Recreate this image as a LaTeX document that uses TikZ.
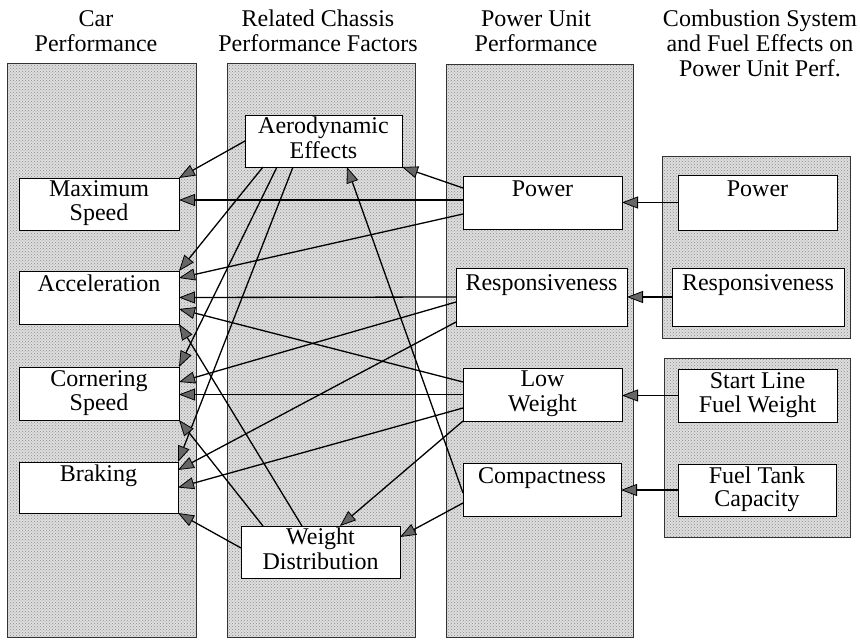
\documentclass[tikz,border=0pt]{standalone}
\usepackage{fontspec}
\setmainfont{Liberation Serif}
\usetikzlibrary{arrows.meta,patterns,calc}
\begin{document}
\begin{tikzpicture}[x=1pt,y=-1pt,
  panelfill/.style={fill=black!13},
  paneldots/.style={pattern=crosshatch dots,pattern color=black!45},
  paneledge/.style={draw=black!80,line width=0.8pt},
  box/.style={draw=black,line width=0.9pt,fill=white,inner sep=0pt,outer sep=0pt,
    align=center,font=\fontsize{24}{22}\selectfont},
  ttl/.style={inner sep=0pt,align=center,anchor=north,font=\fontsize{24}{25}\selectfont},
  conn/.style={line width=1.3pt,-{Triangle[length=16pt,width=12pt,fill=black!60,line width=0.8pt]}},
]
\useasboundingbox (0,0) rectangle (860,640);
\fill[white] (0,0) rectangle (860,640);

% panels
\foreach \a/\b/\c/\d in {7/63/196/637, 227/63/415/637, 446/64/633/637, 662/156/850/338, 664/358/850/537}{
  \fill[panelfill] (\a,\b) rectangle (\c,\d);
  \fill[paneldots] (\a,\b) rectangle (\c,\d);
  \draw[paneledge] (\a,\b) rectangle (\c,\d);
}

% titles
\node[ttl] (t1) at (96,8.5) {\strut Car\\Performance};
\node[ttl] (t2) at (318,8.5) {\strut Related Chassis\\Performance Factors};
\node[ttl] (t3) at (536,8.5) {\strut Power Unit\\Performance};
\node[ttl] (t4) at (760,8.5) {\strut Combustion System\\and Fuel Effects on\\Power Unit Perf.};

% car performance
\node[box,minimum width=160pt,minimum height=52pt] (ms) at (99,204) {\strut Maximum\\Speed\strut};
\node[box,minimum width=160pt,minimum height=53pt] (acc) at (99,297.5) {\strut Acceleration\\\strut};
\node[box,minimum width=160pt,minimum height=53pt] (corn) at (99,393.5) {\strut Cornering\\Speed\strut};
\node[box,minimum width=159pt,minimum height=51pt] (brk) at (98.5,487.5) {\strut Braking\\\strut};

% chassis
\node[box,minimum width=157pt,minimum height=52pt] (aero) at (323.5,141) {\strut Aerodynamic\\Effects\strut};
\node[box,minimum width=159pt,minimum height=52pt] (wd) at (320.5,552) {\strut Weight\\Distribution\strut};

% power unit
\node[box,minimum width=159pt,minimum height=53pt] (pup) at (542.5,202.5) {\strut Power\\\strut};
\node[box,minimum width=171pt,minimum height=58pt] (pur) at (541.5,297) {\strut Responsiveness\\\strut};
\node[box,minimum width=159pt,minimum height=53pt] (lw) at (542.5,394.5) {\strut Low\\Weight\strut};
\node[box,minimum width=158pt,minimum height=53pt] (cmp) at (542,489.5) {\strut Compactness\\\strut};

% combustion system
\node[box,minimum width=159pt,minimum height=55pt] (csp) at (757.5,202.5) {\strut Power\\\strut};
\node[box,minimum width=172pt,minimum height=58pt] (csr) at (758,297) {\strut Responsiveness\\\strut};
\node[box,minimum width=159pt,minimum height=53pt] (sl) at (757.5,395.5) {\strut Start Line\\Fuel Weight\strut};
\node[box,minimum width=158pt,minimum height=52pt] (ft) at (757,490) {\strut Fuel Tank\\Capacity\strut};

% connectors
\draw[conn] (aero.west) -- (ms.north east);
\draw[conn] ($(aero.south west)+(18,0)$) -- (acc.north east);
\draw[conn] ($(aero.south west)+(32,0)$) -- (corn.north east);
\draw[conn] ($(aero.south west)+(48,0)$) -- (brk.north east);

\draw[conn] ($(pup.north west)+(0,12)$) -- (aero.south east);
\draw[conn] ($(pup.north west)+(0,24)$) -- ($(ms.north east)+(0,22)$);
\draw[conn] ($(pup.north west)+(0,38)$) -- ($(acc.north east)+(0,7)$);

\draw[conn] (pur.west) -- (acc.east);
\draw[conn] ($(pur.north west)+(0,34)$) -- ($(corn.north east)+(0,15)$);
\draw[conn] ($(pur.north west)+(0,54)$) -- ($(brk.north east)+(0,8)$);

\draw[conn] ($(lw.north west)+(0,14)$) -- ($(acc.north east)+(0,38)$);
\draw[conn] (lw.west) -- (lw.west -| corn.east);
\draw[conn] ($(lw.north west)+(0,40)$) -- (brk.east);
\draw[conn] (lw.south west) -- ($(wd.north west)+(99,0)$);

\draw[conn] ($(cmp.north west)+(0,30)$) -- ($(aero.south west)+(102,0)$);
\draw[conn] ($(cmp.north west)+(0,40)$) -- ($(wd.north east)+(0,11)$);

\draw[conn] ($(wd.north west)+(61,0)$) -- (acc.south east);
\draw[conn] ($(wd.north west)+(22,0)$) -- (corn.south east);
\draw[conn] ($(wd.north west)+(0,22)$) -- (brk.south east);

\draw[conn] (csp.west) -- (pup.east);
\draw[conn] (csr.west) -- (pur.east);
\draw[conn] (sl.west) -- (sl.west -| lw.east);
\draw[conn] (ft.west) -- (ft.west -| cmp.east);
\end{tikzpicture}
\end{document}
